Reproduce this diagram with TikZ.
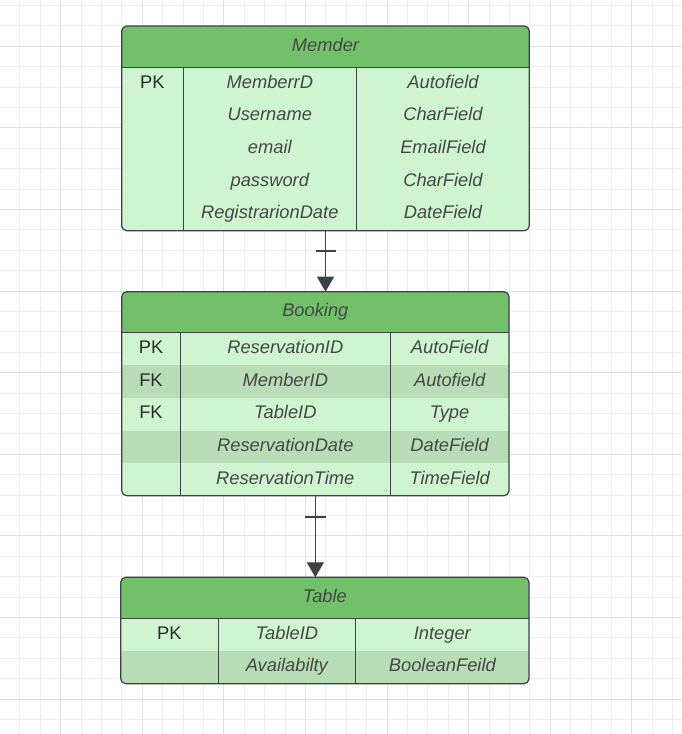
\documentclass[tikz,border=0pt]{standalone}
\usepackage{fontspec}
\setmainfont{Liberation Sans}
\usetikzlibrary{arrows.meta}
\definecolor{hdr}{HTML}{73C06B}
\definecolor{rowl}{HTML}{CEF5D0}
\definecolor{rowd}{HTML}{B8DCB5}
\definecolor{bord}{HTML}{3C4148}
\definecolor{txt}{HTML}{444745}
\definecolor{keytxt}{HTML}{2A2A2A}
\definecolor{gmin}{HTML}{EEEEEE}
\definecolor{gmaj}{HTML}{E0E0E0}
\begin{document}
\begin{tikzpicture}[x=1pt,y=-1pt,
  fld/.style={font=\fontsize{18.3}{22}\selectfont\itshape, text=txt, text height=13.1pt, text depth=3.9pt, inner sep=0pt},
  keyf/.style={font=\fontsize{18.3}{22}\selectfont, text=keytxt, text height=13.1pt, text depth=3.9pt, inner sep=0pt},
  tbox/.style={draw=bord, line width=1.2pt, rounded corners=5pt, inner sep=0pt, outer sep=0pt, anchor=north west},
  divider/.style={draw=bord, line width=1pt},
  conn/.style={draw=bord, line width=1.3pt},
  gridmin/.style={draw=gmin, line width=1pt},
  gridmaj/.style={draw=gmaj, line width=1pt}]
\useasboundingbox (0,0) rectangle (682,734);
\fill[white] (0,0) rectangle (682,734);
% grid
\foreach \k in {0,...,33} \draw[gridmin] ({-0.5+20.4*\k},0) -- ({-0.5+20.4*\k},734);
\foreach \k in {0,...,35} \draw[gridmin] (0,{5.5+20.4*\k}) -- (682,{5.5+20.4*\k});
\foreach \k in {0,...,7} \draw[gridmaj] ({60.7+81.6*\k},0) -- ({60.7+81.6*\k},734);
\foreach \k in {0,...,8} \draw[gridmaj] (0,{46.3+81.6*\k}) -- (682,{46.3+81.6*\k});

% ---------- Memder ----------
\begin{scope}
\clip[rounded corners=5pt] (121.7,26) rectangle (529.3,230.7);
\fill[rowl] (121.7,26) rectangle (529.3,230.7);
\fill[hdr] (121.7,26) rectangle (529.3,67.3);
\end{scope}
\draw[divider] (121.7,67.3) -- (529.3,67.3);
\draw[divider] (183,67.3) -- (183,230.7);
\draw[divider] (356.7,67.3) -- (356.7,230.7);
\node[tbox, minimum width=407.6pt, minimum height=204.7pt] (memder) at (121.7,26) {};
\node[fld] (m-h) at (325.5,46.65) {Memder};
\node[keyf] (m-k1) at (152.3,{67.3+0.5*32.68}) {PK};
\foreach \i/\n/\t in {1/MemberrD/Autofield,2/Username/CharField,3/email/EmailField,4/password/CharField,5/RegistrarionDate/DateField}{
  \node[fld] (m-n\i) at (269.8,{67.3+(\i-0.5)*32.68}) {\n};
  \node[fld] (m-t\i) at (443,{67.3+(\i-0.5)*32.68}) {\t};
}

% ---------- Booking ----------
\begin{scope}
\clip[rounded corners=5pt] (121.7,291.7) rectangle (509,495.7);
\fill[rowl] (121.7,291.7) rectangle (509,495.7);
\fill[hdr] (121.7,291.7) rectangle (509,332.7);
\fill[rowd] (121.7,{332.7+32.6}) rectangle (509,{332.7+2*32.6});
\fill[rowd] (121.7,{332.7+3*32.6}) rectangle (509,{332.7+4*32.6});
\end{scope}
\draw[divider] (121.7,332.7) -- (509,332.7);
\draw[divider] (180.3,332.7) -- (180.3,495.7);
\draw[divider] (390.3,332.7) -- (390.3,495.7);
\node[tbox, minimum width=387.3pt, minimum height=204pt] (booking) at (121.7,291.7) {};
\node[fld] (b-h) at (315.35,312.2) {Booking};
\foreach \i/\k in {1/PK,2/FK,3/FK}{
  \node[keyf] (b-k\i) at (151,{332.7+(\i-0.5)*32.6}) {\k};
}
\foreach \i/\n/\t in {1/ReservationID/AutoField,2/MemberID/Autofield,3/TableID/Type,4/ReservationDate/DateField,5/ReservationTime/TimeField}{
  \node[fld] (b-n\i) at (285.3,{332.7+(\i-0.5)*32.6}) {\n};
  \node[fld] (b-t\i) at (449.65,{332.7+(\i-0.5)*32.6}) {\t};
}

% ---------- Table ----------
\begin{scope}
\clip[rounded corners=5pt] (120.7,577.3) rectangle (529,683.7);
\fill[rowl] (120.7,577.3) rectangle (529,683.7);
\fill[hdr] (120.7,577.3) rectangle (529,618.3);
\fill[rowd] (120.7,{618.3+32.7}) rectangle (529,683.7);
\end{scope}
\draw[divider] (120.7,618.3) -- (529,618.3);
\draw[divider] (218,618.3) -- (218,683.7);
\draw[divider] (355.7,618.3) -- (355.7,683.7);
\node[tbox, minimum width=408.3pt, minimum height=106.4pt] (table) at (120.7,577.3) {};
\node[fld] (t-h) at (324.85,597.8) {Table};
\node[keyf] (t-k1) at (169.35,{618.3+0.5*32.7}) {PK};
\foreach \i/\n/\t in {1/TableID/Integer,2/Availabilty/BooleanFeild}{
  \node[fld] (t-n\i) at (286.85,{618.3+(\i-0.5)*32.7}) {\n};
  \node[fld] (t-t\i) at (442.35,{618.3+(\i-0.5)*32.7}) {\t};
}

% ---------- connectors ----------
\draw[conn, -{Triangle[length=15pt,width=17pt]}] (memder.south) -- (memder.south |- booking.north);
\draw[conn] ([xshift=-10pt,yshift=-20.3pt]memder.south) -- ([xshift=10pt,yshift=-20.3pt]memder.south);
\draw[conn, -{Triangle[length=15pt,width=17pt]}] (booking.south) -- (booking.south |- table.north);
\draw[conn] ([xshift=-10.5pt,yshift=-21.3pt]booking.south) -- ([xshift=10.5pt,yshift=-21.3pt]booking.south);
\end{tikzpicture}
\end{document}
